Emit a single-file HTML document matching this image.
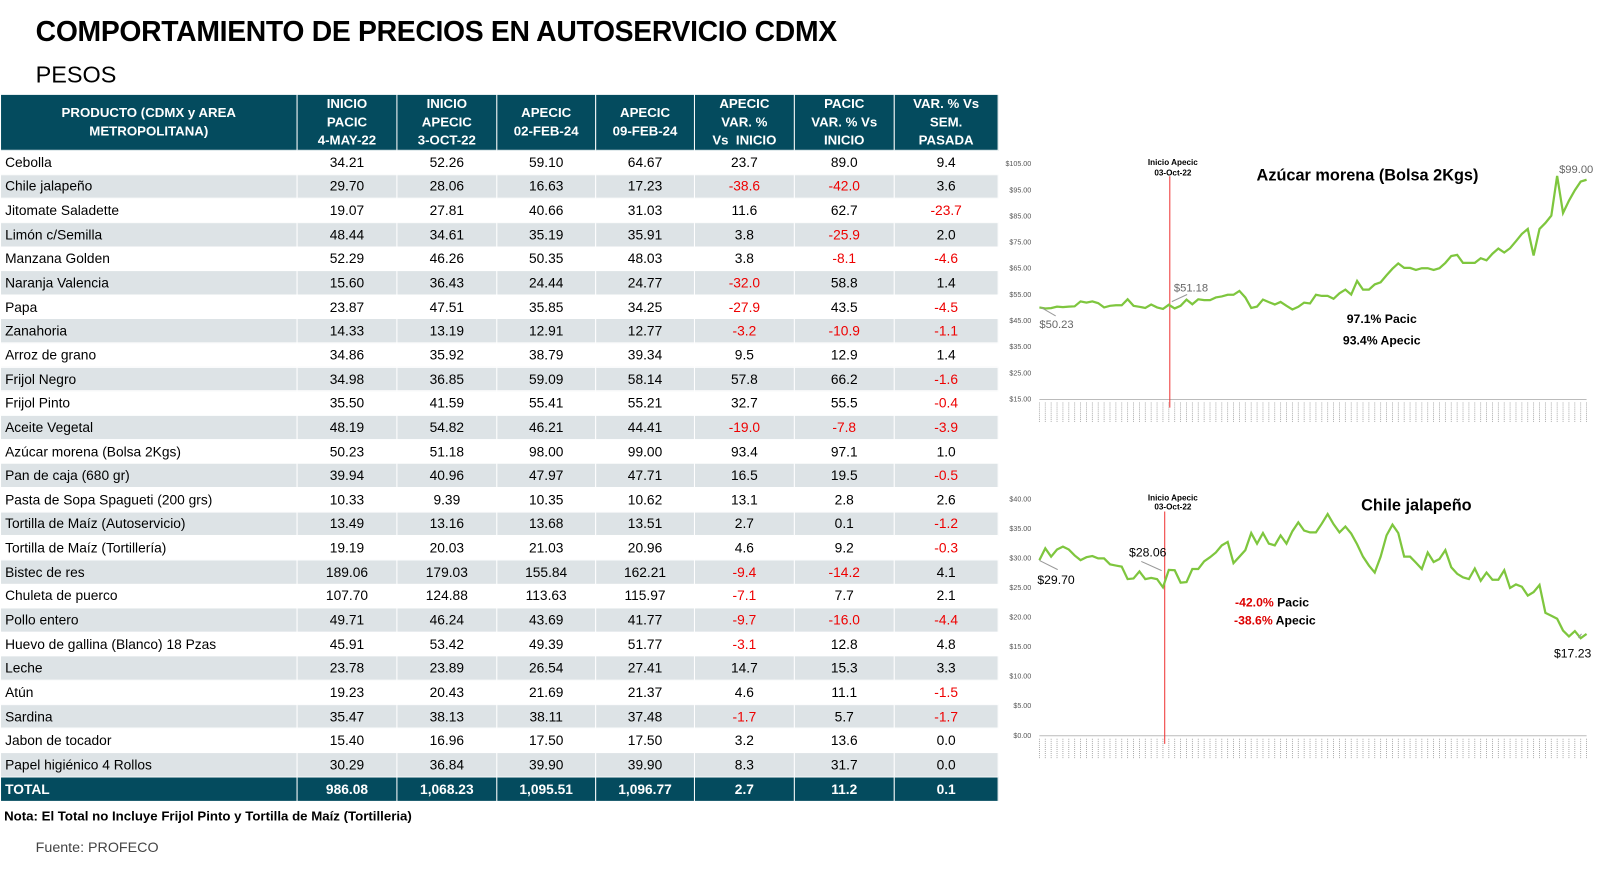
<!DOCTYPE html><html><head><meta charset="utf-8"><style>
body{margin:0;width:1600px;height:874px;background:#fff;font-family:"Liberation Sans",sans-serif;overflow:hidden}
#w{position:absolute;left:0;top:0;width:1570px;height:858px;transform:scale(1.019);transform-origin:0 0}
.t{position:absolute;left:35px;top:15px;font-size:27.8px;font-weight:bold;color:#000;letter-spacing:-0.3px}
.p{position:absolute;left:35px;top:60px;font-size:23px;color:#000}
table{position:absolute;left:0;top:92px;width:979px;border-collapse:collapse;table-layout:fixed;font-size:13.5px}
th{background:#044b5e;color:#fff;font-size:13px;font-weight:bold;height:54px;line-height:18px;border:1px solid #fff;padding:0}
td{height:22.65px;padding:0;text-align:center;border:1px solid #fff}
td:first-child{text-align:left;padding-left:4px}
tr.g td{background:#dde3e6}
.r{color:#e00}
tr.tot td{background:#044b5e;color:#fff;font-weight:bold;height:23px}
.n{position:absolute;left:4px;top:793px;font-size:13px;font-weight:bold}
.f{position:absolute;left:35px;top:823px;font-size:14px;color:#444}
svg{position:absolute;left:0;top:0}
</style></head><body><div id="w">
<div class="t">COMPORTAMIENTO DE PRECIOS EN AUTOSERVICIO CDMX</div>
<div class="p">PESOS</div>
<table>
<colgroup><col style="width:291px"><col style="width:98px"><col style="width:98px"><col style="width:97px"><col style="width:97px"><col style="width:98px"><col style="width:98px"><col style="width:102px"></colgroup>
<tr><th>PRODUCTO (CDMX y AREA<br>METROPOLITANA)</th><th>INICIO<br>PACIC<br>4-MAY-22</th><th>INICIO<br>APECIC<br>3-OCT-22</th><th>APECIC<br>02-FEB-24</th><th>APECIC<br>09-FEB-24</th><th>APECIC<br>VAR. %<br>Vs &nbsp;INICIO</th><th>PACIC<br>VAR. % Vs<br>INICIO</th><th>VAR. % Vs<br>SEM.<br>PASADA</th></tr>
<tr><td>Cebolla</td><td>34.21</td><td>52.26</td><td>59.10</td><td>64.67</td><td>23.7</td><td>89.0</td><td>9.4</td></tr>
<tr class="g"><td>Chile jalapeño</td><td>29.70</td><td>28.06</td><td>16.63</td><td>17.23</td><td class="r">-38.6</td><td class="r">-42.0</td><td>3.6</td></tr>
<tr><td>Jitomate Saladette</td><td>19.07</td><td>27.81</td><td>40.66</td><td>31.03</td><td>11.6</td><td>62.7</td><td class="r">-23.7</td></tr>
<tr class="g"><td>Limón c/Semilla</td><td>48.44</td><td>34.61</td><td>35.19</td><td>35.91</td><td>3.8</td><td class="r">-25.9</td><td>2.0</td></tr>
<tr><td>Manzana Golden</td><td>52.29</td><td>46.26</td><td>50.35</td><td>48.03</td><td>3.8</td><td class="r">-8.1</td><td class="r">-4.6</td></tr>
<tr class="g"><td>Naranja Valencia</td><td>15.60</td><td>36.43</td><td>24.44</td><td>24.77</td><td class="r">-32.0</td><td>58.8</td><td>1.4</td></tr>
<tr><td>Papa</td><td>23.87</td><td>47.51</td><td>35.85</td><td>34.25</td><td class="r">-27.9</td><td>43.5</td><td class="r">-4.5</td></tr>
<tr class="g"><td>Zanahoria</td><td>14.33</td><td>13.19</td><td>12.91</td><td>12.77</td><td class="r">-3.2</td><td class="r">-10.9</td><td class="r">-1.1</td></tr>
<tr><td>Arroz de grano</td><td>34.86</td><td>35.92</td><td>38.79</td><td>39.34</td><td>9.5</td><td>12.9</td><td>1.4</td></tr>
<tr class="g"><td>Frijol Negro</td><td>34.98</td><td>36.85</td><td>59.09</td><td>58.14</td><td>57.8</td><td>66.2</td><td class="r">-1.6</td></tr>
<tr><td>Frijol Pinto</td><td>35.50</td><td>41.59</td><td>55.41</td><td>55.21</td><td>32.7</td><td>55.5</td><td class="r">-0.4</td></tr>
<tr class="g"><td>Aceite Vegetal</td><td>48.19</td><td>54.82</td><td>46.21</td><td>44.41</td><td class="r">-19.0</td><td class="r">-7.8</td><td class="r">-3.9</td></tr>
<tr><td>Azúcar morena (Bolsa 2Kgs)</td><td>50.23</td><td>51.18</td><td>98.00</td><td>99.00</td><td>93.4</td><td>97.1</td><td>1.0</td></tr>
<tr class="g"><td>Pan de caja (680 gr)</td><td>39.94</td><td>40.96</td><td>47.97</td><td>47.71</td><td>16.5</td><td>19.5</td><td class="r">-0.5</td></tr>
<tr><td>Pasta de Sopa Spagueti (200 grs)</td><td>10.33</td><td>9.39</td><td>10.35</td><td>10.62</td><td>13.1</td><td>2.8</td><td>2.6</td></tr>
<tr class="g"><td>Tortilla de Maíz (Autoservicio)</td><td>13.49</td><td>13.16</td><td>13.68</td><td>13.51</td><td>2.7</td><td>0.1</td><td class="r">-1.2</td></tr>
<tr><td>Tortilla de Maíz (Tortillería)</td><td>19.19</td><td>20.03</td><td>21.03</td><td>20.96</td><td>4.6</td><td>9.2</td><td class="r">-0.3</td></tr>
<tr class="g"><td>Bistec de res</td><td>189.06</td><td>179.03</td><td>155.84</td><td>162.21</td><td class="r">-9.4</td><td class="r">-14.2</td><td>4.1</td></tr>
<tr><td>Chuleta de puerco</td><td>107.70</td><td>124.88</td><td>113.63</td><td>115.97</td><td class="r">-7.1</td><td>7.7</td><td>2.1</td></tr>
<tr class="g"><td>Pollo entero</td><td>49.71</td><td>46.24</td><td>43.69</td><td>41.77</td><td class="r">-9.7</td><td class="r">-16.0</td><td class="r">-4.4</td></tr>
<tr><td>Huevo de gallina (Blanco) 18 Pzas</td><td>45.91</td><td>53.42</td><td>49.39</td><td>51.77</td><td class="r">-3.1</td><td>12.8</td><td>4.8</td></tr>
<tr class="g"><td>Leche</td><td>23.78</td><td>23.89</td><td>26.54</td><td>27.41</td><td>14.7</td><td>15.3</td><td>3.3</td></tr>
<tr><td>Atún</td><td>19.23</td><td>20.43</td><td>21.69</td><td>21.37</td><td>4.6</td><td>11.1</td><td class="r">-1.5</td></tr>
<tr class="g"><td>Sardina</td><td>35.47</td><td>38.13</td><td>38.11</td><td>37.48</td><td class="r">-1.7</td><td>5.7</td><td class="r">-1.7</td></tr>
<tr><td>Jabon de tocador</td><td>15.40</td><td>16.96</td><td>17.50</td><td>17.50</td><td>3.2</td><td>13.6</td><td>0.0</td></tr>
<tr class="g"><td>Papel higiénico 4 Rollos</td><td>30.29</td><td>36.84</td><td>39.90</td><td>39.90</td><td>8.3</td><td>31.7</td><td>0.0</td></tr>
<tr class="tot"><td>TOTAL</td><td>986.08</td><td>1,068.23</td><td>1,095.51</td><td>1,096.77</td><td>2.7</td><td>11.2</td><td>0.1</td></tr>
</table>
<div class="n">Nota: El Total no Incluye Frijol Pinto y Tortilla de Maíz (Tortilleria)</div>
<div class="f">Fuente: PROFECO</div>
<svg id="s" width="1570" height="858" font-family="Liberation Sans, sans-serif"></svg>
</div>
<script>
var s=document.getElementById('s'),h='';
function chart(vals,x0,x1,yTop,yBot,vTop,vBot,step,redX){
 var n=vals.length;
 for(var v=vBot;v<=vTop+0.01;v+=step){var y=yBot-(v-vBot)/(vTop-vBot)*(yBot-yTop);
  h+='<text x="1012" y="'+(y+2)+'" font-size="7" fill="#555" text-anchor="end">$'+v.toFixed(2)+'</text>';}
 h+='<line x1="'+x0+'" y1="'+yBot+'" x2="'+x1+'" y2="'+yBot+'" stroke="#bbb" stroke-width="1"/>';
 var pts=[];
 for(var i=0;i<n;i++){var x=x0+i*(x1-x0)/(n-1);var y=yBot-(vals[i]-vBot)/(vTop-vBot)*(yBot-yTop);pts.push(x.toFixed(1)+','+y.toFixed(1));
  h+='<line x1="'+x+'" y1="'+(yBot+3)+'" x2="'+x+'" y2="'+(yBot+22)+'" stroke="#999" stroke-width="0.8" stroke-dasharray="1,1"/>';}
 h+='<line x1="'+redX+'" y1="'+(yTop+12)+'" x2="'+redX+'" y2="'+(yBot+8)+'" stroke="#e33" stroke-width="1"/>';
 h+='<polyline points="'+pts.join(' ')+'" fill="none" stroke="#7ec63e" stroke-width="2.2"/>';
}
chart([50.2,49.8,49.9,50.5,50.3,50.5,50.6,52.5,52,52.5,51.8,50.2,50.8,51,51,53.3,50.8,50.4,50,51.3,50.2,49.6,51.18,49.8,50.8,53.2,51.4,53.3,53,53,54,54.4,55,55,56.5,54,50,50.5,53.2,52.2,51.3,52.3,50.8,49.4,50.4,52,51.7,55,54.6,54.6,53.5,55.6,57,55.1,60.3,57,57,59,59.8,62.5,65,67,65.3,65.3,64.5,65.2,65.2,64.5,65.2,67.2,69.8,70.3,67.2,67.2,67.2,69,68.2,70.7,72.7,71.2,72.8,75.5,78.3,80.2,70,80.2,82.5,85.3,100.5,86.3,91,95,98.3,99],1020,1557,161,392,105,15,10,1148);
chart([29.7,31.7,30.3,31.5,32,31.5,30.5,29.7,30.2,30.4,30,30,29,28.8,28.6,26.5,26.6,27.8,26.5,26.7,26.5,25.1,28.06,28,25.9,26,28.2,28.2,29.5,30.2,31,32.2,32.8,29.2,30.3,31.4,34.3,32.5,34.3,32.5,32.2,33.9,32.5,34.6,36.1,34.7,34.4,34.4,35.9,37.5,35.8,34.4,35.4,34.2,32.4,30.3,28.8,27.6,30.3,33.9,35.7,34.3,30.3,30.3,29.3,28.2,31,29.4,29.9,31.4,28.5,27.4,26.8,26.5,28.3,26.2,27.6,26.4,26.4,28,25,25.6,25.2,23.7,24.3,25.5,20.8,20.3,19.8,17.8,16.8,17.7,16.5,17.23],1020,1557,490,722,40,0,5,1143);
h+='<text x="1151" y="162" font-size="8" font-weight="bold" text-anchor="middle">Inicio Apecic</text><text x="1151" y="172" font-size="8" font-weight="bold" text-anchor="middle">03-Oct-22</text>';
h+='<text x="1342" y="177" font-size="16" font-weight="bold" text-anchor="middle">Azúcar morena (Bolsa 2Kgs)</text>';
h+='<text x="1530" y="170" font-size="11" fill="#666">$99.00</text>';
h+='<text x="1152" y="286" font-size="11" fill="#666">$51.18</text><line x1="1150" y1="296" x2="1165" y2="289" stroke="#999"/>';
h+='<text x="1020" y="322" font-size="11" fill="#666">$50.23</text><line x1="1022" y1="302" x2="1036" y2="310" stroke="#999"/>';
h+='<text x="1356" y="317" font-size="12" font-weight="bold" text-anchor="middle">97.1% Pacic</text><text x="1356" y="338" font-size="12" font-weight="bold" text-anchor="middle">93.4% Apecic</text>';
h+='<text x="1151" y="491" font-size="8" font-weight="bold" text-anchor="middle">Inicio Apecic</text><text x="1151" y="500" font-size="8" font-weight="bold" text-anchor="middle">03-Oct-22</text>';
h+='<text x="1390" y="501" font-size="16" font-weight="bold" text-anchor="middle">Chile jalapeño</text>';
h+='<text x="1018" y="573" font-size="12">$29.70</text><line x1="1020" y1="550" x2="1038" y2="559" stroke="#999"/>';
h+='<text x="1108" y="546" font-size="12">$28.06</text><line x1="1120" y1="551" x2="1140" y2="560" stroke="#999"/>';
h+='<text x="1525" y="645" font-size="12">$17.23</text><line x1="1549" y1="626" x2="1552" y2="622" stroke="#999"/>';
h+='<text x="1212" y="595" font-size="12" font-weight="bold"><tspan fill="#d00">-42.0%</tspan> Pacic</text><text x="1211" y="613" font-size="12" font-weight="bold"><tspan fill="#d00">-38.6%</tspan> Apecic</text>';
s.innerHTML=h;
</script>
</body></html>
